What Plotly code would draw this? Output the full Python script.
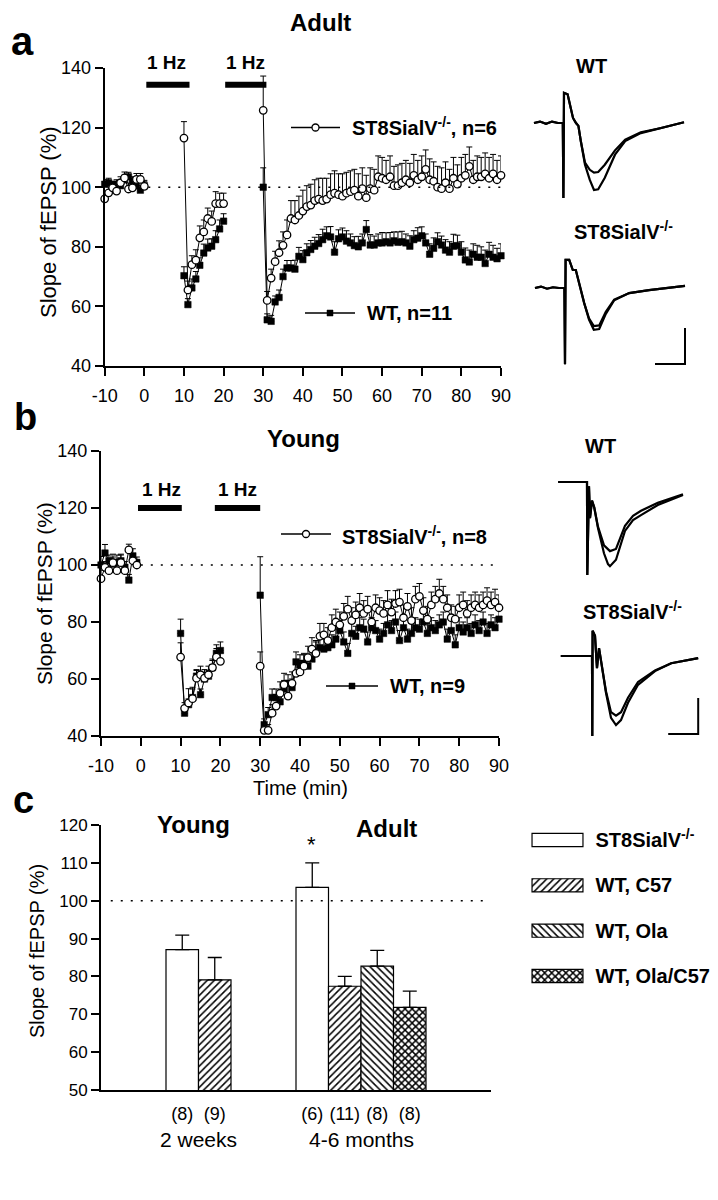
import plotly.graph_objects as go

W, H = 718, 1200
FONT = "Liberation Sans, Arial, Helvetica, sans-serif"


def px(x):
    return x / W


def py(y):
    return 1 - y / H


# ------------------------------------------------------------------ data
# time (min)
a_base_t = list(range(-10, 1))
b_base_t = list(range(-10, 0))
lfs1_t = list(range(10, 21))
post_t = list(range(30, 91))
time_ticks = [-10, 0, 10, 20, 30, 40, 50, 60, 70, 80, 90]

# ---- panel a (Adult)
a_st8_base = [96.1, 98.1, 99.8, 98.7, 101.5, 103.1, 99.4, 99.8, 102.6, 102.6, 100.3]
a_st8_base_err = [2.0, 2.0, 2.0, 2.0, 2.0, 2.0, 2.0, 2.5, 2.0, 2.0, 2.0]
a_wt_base = [101.0, 101.5, 100.5, 101.0, 100.5, 102.5, 103.5, 102.0, 100.5, 99.0, 100.5]
a_wt_base_err = [1.5, 1.5, 1.5, 1.5, 1.5, 1.5, 1.5, 1.5, 1.5, 1.5, 1.5]
a_st8_lfs1 = [116.5, 65.5, 74.0, 75.5, 83.0, 85.0, 89.5, 88.5, 94.5, 94.5, 94.5]
a_st8_lfs1_err = [5.5, 3.0, 3.0, 3.5, 4.0, 4.0, 3.5, 3.5, 4.0, 3.5, 3.5]
a_wt_lfs1 = [70.3, 60.6, 66.2, 69.2, 73.8, 77.9, 79.6, 80.2, 82.4, 86.0, 88.6]
a_wt_lfs1_err = [3.0, 2.0, 3.0, 2.5, 2.5, 3.0, 3.0, 2.5, 3.0, 3.0, 2.5]
a_st8_post = [
    125.8, 62.0, 69.5, 75.0, 78.0, 80.5, 84.0, 89.5, 89.0, 90.5,
    92.0, 93.5, 94.0, 95.5, 96.0, 95.5, 96.0, 97.5, 98.0, 97.5,
    97.0, 98.0, 98.5, 99.0, 97.0, 99.5, 96.5, 99.5, 99.0, 103.5,
    103.0, 102.5, 103.5, 100.5, 100.5, 101.5, 102.5, 101.5, 104.0, 102.5,
    103.5, 106.0, 102.5, 102.0, 100.0, 99.5, 101.5, 99.5, 103.0, 101.0,
    103.0, 104.0, 107.0, 102.5, 103.5, 103.5, 104.5, 103.0, 104.5, 102.5,
    104.0]
a_st8_post_err = [
    11.5, 3.0, 3.0, 3.5, 4.0, 4.5, 5.0, 6.0, 6.5, 6.5,
    7.0, 7.0, 7.0, 7.0, 7.0, 7.5, 7.0, 7.0, 7.5, 7.0,
    7.5, 7.0, 7.0, 7.0, 7.5, 7.0, 7.5, 7.0, 7.0, 7.0,
    7.0, 6.5, 7.0, 6.5, 7.0, 6.5, 6.5, 6.5, 7.0, 6.5,
    7.0, 6.5, 7.0, 6.5, 7.0, 7.0, 7.0, 6.5, 7.0, 6.5,
    7.0, 7.0, 6.5, 6.5, 7.0, 6.5, 7.0, 7.0, 6.5, 6.5,
    6.5]
a_wt_post = [
    100.0, 55.5, 55.0, 61.5, 63.0, 70.0, 72.9, 72.9, 72.5, 76.8,
    75.7, 78.0, 79.1, 80.2, 81.1, 82.4, 83.7, 83.3, 78.2, 82.7,
    83.3, 81.9, 81.3, 80.4, 80.0, 81.3, 85.8, 80.6, 80.6, 81.3,
    81.3, 81.7, 81.3, 82.0, 81.5, 81.7, 81.3, 80.2, 82.4, 82.9,
    83.7, 81.3, 77.5, 79.5, 81.7, 80.6, 78.9, 78.2, 80.2, 80.4,
    78.2, 75.6, 74.9, 77.5, 76.5, 76.5, 74.4, 77.5, 76.5, 76.0,
    77.0]
a_wt_post_err = [
    6.5, 2.0, 2.0, 2.0, 2.5, 2.5, 2.5, 2.5, 3.0, 3.0,
    3.0, 3.0, 3.0, 3.0, 3.0, 3.5, 3.0, 3.5, 3.5, 3.0,
    3.0, 3.5, 3.0, 3.0, 3.5, 3.0, 3.0, 3.5, 3.0, 3.0,
    3.5, 3.0, 3.5, 3.0, 3.5, 3.5, 3.0, 3.5, 3.0, 3.5,
    3.0, 3.0, 3.5, 3.5, 3.0, 3.0, 3.5, 3.5, 4.0, 3.5,
    3.5, 4.0, 4.0, 3.5, 4.0, 3.5, 4.5, 4.0, 4.0, 3.5,
    4.0]

# ---- panel b (Young)
b_st8_base = [95.2, 99.2, 98.0, 100.8, 98.0, 100.8, 98.0, 105.3, 101.5, 100.0]
b_st8_base_err = [3.0, 2.0, 2.0, 3.0, 2.0, 3.0, 2.0, 2.0, 2.5, 2.0]
b_wt_base = [100.0, 104.2, 101.5, 100.3, 101.0, 101.5, 99.2, 94.7, 103.2, 100.8]
b_wt_base_err = [3.0, 3.0, 2.0, 2.5, 2.5, 2.0, 2.0, 2.0, 2.5, 2.0]
b_st8_lfs1 = [67.7, 49.7, 51.6, 53.1, 60.3, 61.5, 60.3, 61.5, 64.0, 67.7, 66.2]
b_st8_lfs1_err = [5.0, 2.0, 5.0, 4.0, 3.0, 3.0, 3.0, 3.0, 3.0, 3.0, 3.0]
b_wt_lfs1 = [76.0, 48.0, 51.0, 53.5, 61.0, 54.5, 60.0, 61.0, 64.0, 69.0, 70.0]
b_wt_lfs1_err = [5.0, 2.0, 2.0, 3.0, 2.0, 2.0, 2.0, 2.0, 2.5, 3.0, 3.0]
b_st8_post = [
    64.5, 42.0, 42.0, 48.0, 50.5, 55.0, 58.0, 54.0, 58.5, 62.0,
    62.5, 64.5, 67.5, 70.5, 69.0, 75.0, 75.5, 73.5, 78.0, 80.0,
    79.0, 82.0, 84.5, 80.5, 82.5, 85.0, 83.0, 84.5, 80.0, 85.0,
    84.0, 83.0, 86.0, 83.5, 86.5, 87.0, 81.5, 85.5, 80.5, 88.0,
    89.0, 84.0, 81.0, 86.0, 88.0, 90.0, 88.0, 85.0, 81.5, 81.0,
    85.0, 86.0, 83.0, 85.0, 86.0, 85.0, 86.0, 87.5, 86.0, 87.0,
    85.0]
b_st8_post_err = [
    5.0, 2.0, 2.0, 3.0, 4.0, 4.0, 4.0, 4.0, 4.0, 4.0,
    4.0, 4.0, 4.0, 4.0, 4.5, 4.5, 4.0, 4.5, 4.5, 4.5,
    4.5, 4.5, 4.5, 4.5, 4.5, 5.0, 4.5, 4.5, 4.5, 4.5,
    4.5, 4.5, 5.0, 4.5, 4.5, 4.5, 4.5, 4.5, 4.5, 4.5,
    4.5, 4.5, 4.5, 4.5, 4.5, 5.0, 4.5, 4.5, 4.5, 4.5,
    4.5, 4.5, 4.5, 4.5, 4.5, 4.5, 4.5, 4.5, 4.5, 4.5,
    4.5]
b_wt_post = [
    89.4, 44.0, 47.5, 53.5, 53.5, 52.0, 56.5, 58.5, 57.0, 66.0,
    65.0, 65.5, 64.5, 67.0, 69.5, 71.0, 70.5, 71.0, 72.0, 74.0,
    77.0, 73.0, 69.0, 76.0, 75.0, 78.0, 77.5, 73.0, 78.0, 77.0,
    74.0, 76.0, 79.0, 77.0, 80.0, 73.5, 78.0, 74.0, 76.0, 78.0,
    77.5, 80.0, 76.0, 78.0, 77.0, 79.0, 80.0, 74.0, 77.0, 72.0,
    78.0, 76.5, 78.0, 76.0, 79.0, 77.0, 80.0, 76.0, 79.0, 78.0,
    81.0]
b_wt_post_err = [
    13.5, 2.0, 2.5, 3.0, 3.0, 3.0, 3.0, 3.0, 3.0, 3.5,
    3.5, 3.5, 3.5, 3.5, 3.5, 3.5, 3.5, 3.5, 3.5, 3.5,
    3.5, 3.5, 3.5, 3.5, 3.5, 3.5, 3.5, 3.5, 3.5, 3.5,
    3.5, 3.5, 3.5, 3.5, 3.5, 3.5, 3.5, 3.5, 3.5, 3.5,
    3.5, 3.5, 3.5, 3.5, 3.5, 3.5, 3.5, 3.5, 3.5, 3.5,
    3.5, 3.5, 3.5, 3.5, 3.5, 3.5, 3.5, 3.5, 3.5, 3.5,
    3.5]

# ---- panel c (bars)
bar_groups = ["2 weeks", "2 weeks", "4-6 months", "4-6 months", "4-6 months", "4-6 months"]
bar_types = ["ST8SialV-/-", "WT, C57", "ST8SialV-/-", "WT, C57", "WT, Ola", "WT, Ola/C57"]
bar_means = [87.1, 79.1, 103.5, 77.4, 82.7, 71.8]
bar_sems = [3.8, 5.9, 6.5, 2.6, 4.2, 4.3]
bar_n = [8, 9, 6, 11, 8, 8]
legend_types = ["ST8SialV-/-", "WT, C57", "WT, Ola", "WT, Ola/C57"]

# ---- example fEPSP traces (time in ms, voltage in mV)
aWT_t = [-5.0, -4.0, -3.0, -2.0, -1.0, -0.2, -0.1, 0.0, 0.6, 1.5, 2.0, 2.4, 2.8, 3.5,
         4.3, 5.0, 5.7, 6.8, 8.5, 10.2, 12.8, 16.2, 20.0]
aWT_v1 = [0.0, 0.02, -0.01, 0.02, 0.0, 0.0, -1.04, 0.42, 0.40, 0.07, 0.0, -0.04, -0.25, -0.58,
          -0.79, -0.93, -0.92, -0.76, -0.44, -0.25, -0.14, -0.07, 0.01]
aWT_v2 = [0.0, 0.02, -0.01, 0.02, 0.0, 0.0, -1.04, 0.42, 0.40, 0.07, 0.0, -0.04, -0.25, -0.55,
          -0.65, -0.69, -0.68, -0.58, -0.38, -0.23, -0.13, -0.07, 0.01]
aST_t = [-5.0, -4.0, -3.0, -2.0, -1.0, -0.1, 0.0, 0.1, 0.7, 1.3, 1.8, 2.3, 3.2, 4.0,
         4.8, 5.7, 6.8, 8.2, 10.7, 14.0, 20.0]
aST_v1 = [0.0, 0.02, -0.01, 0.01, 0.0, 0.0, -1.06, 0.39, 0.39, 0.25, 0.25, 0.07, -0.21, -0.44,
          -0.58, -0.57, -0.36, -0.17, -0.07, -0.03, 0.03]
aST_v2 = [0.0, 0.02, -0.01, 0.01, 0.0, 0.0, -1.06, 0.39, 0.39, 0.25, 0.25, 0.07, -0.21, -0.42,
          -0.53, -0.52, -0.33, -0.16, -0.07, -0.03, 0.03]
bWT_t = [-4.8, -4.0, -3.0, -2.0, -1.0, 0.0, 0.05, 0.33, 0.5, 0.83, 1.2, 1.83, 2.83, 3.5,
         3.83, 4.83, 6.33, 7.67, 9.0, 11.8, 16.0]
bWT_v1 = [0.0, 0.0, 0.01, 0.0, 0.0, 0.0, -1.29, -0.06, -0.5, -0.26, -0.35, -0.64, -0.99, -1.14,
          -1.17, -1.08, -0.68, -0.53, -0.46, -0.32, -0.18]
bWT_v2 = [0.0, 0.0, 0.01, 0.0, 0.0, 0.0, -1.29, -0.06, -0.5, -0.26, -0.35, -0.62, -0.88, -0.94,
          -0.96, -0.93, -0.61, -0.47, -0.40, -0.29, -0.17]
bST_t = [-5.2, -4.0, -3.0, -2.0, -1.0, 0.0, 0.05, 0.1, 0.5, 0.83, 1.17, 1.67, 2.33, 3.17,
         4.0, 4.83, 6.0, 7.67, 10.5, 13.2, 17.7]
bST_v1 = [0.0, 0.0, 0.01, 0.0, 0.0, 0.0, -1.11, 0.35, 0.28, -0.17, 0.11, -0.17, -0.51, -0.86,
          -0.96, -0.89, -0.65, -0.40, -0.21, -0.10, -0.03]
bST_v2 = [0.0, 0.0, 0.01, 0.0, 0.0, 0.0, -1.11, 0.35, 0.28, -0.17, 0.11, -0.17, -0.49, -0.78,
          -0.83, -0.78, -0.58, -0.36, -0.20, -0.10, -0.03]
scale_ms = 5.0
scale_mv = 0.5

# ------------------------------------------------------------------ figure
fig = go.Figure()


def joined(segs):
    out = []
    for i, s in enumerate(segs):
        if i:
            out.append(None)
        out.extend(s)
    return out


def joined_err(segs):
    out = []
    for i, s in enumerate(segs):
        if i:
            out.append(0)
        out.extend(s)
    return out


def add_series(ts, vs, es, xa, ya, kind):
    for t, v, e in zip(ts, vs, es):
        assert len(t) == len(v) == len(e), (len(t), len(v), len(e))
    if kind == "wt":
        marker = dict(symbol="square", size=6.5, color="black", line=dict(color="black", width=0.5))
    else:
        marker = dict(symbol="circle", size=7.5, color="white", line=dict(color="black", width=1.3))
    fig.add_trace(go.Scatter(
        x=joined(ts), y=joined(vs), mode="lines+markers",
        line=dict(color="black", width=1), marker=marker,
        error_y=dict(type="data", symmetric=False, array=joined_err(es),
                     arrayminus=[0] * len(joined_err(es)), color="black", thickness=1, width=3),
        xaxis=xa, yaxis=ya, cliponaxis=False, showlegend=False, connectgaps=False))


# panel a
add_series([a_base_t, lfs1_t, post_t], [a_wt_base, a_wt_lfs1, a_wt_post],
           [a_wt_base_err, a_wt_lfs1_err, a_wt_post_err], "x", "y", "wt")
add_series([a_base_t, lfs1_t, post_t], [a_st8_base, a_st8_lfs1, a_st8_post],
           [a_st8_base_err, a_st8_lfs1_err, a_st8_post_err], "x", "y", "st8")
# panel b
add_series([b_base_t, lfs1_t, post_t], [b_wt_base, b_wt_lfs1, b_wt_post],
           [b_wt_base_err, b_wt_lfs1_err, b_wt_post_err], "x2", "y2", "wt")
add_series([b_base_t, lfs1_t, post_t], [b_st8_base, b_st8_lfs1, b_st8_post],
           [b_st8_base_err, b_st8_lfs1_err, b_st8_post_err], "x2", "y2", "st8")

# panel c bars
group_start = {"2 weeks": 2.0, "4-6 months": 6.0}
positions = []
count = {}
for g in bar_groups:
    k = count.get(g, 0)
    positions.append(group_start[g] + k + 0.5)
    count[g] = k + 1

patterns = {
    "ST8SialV-/-": dict(shape=""),
    "WT, C57": dict(shape="/", size=5, solidity=0.3),
    "WT, Ola": dict(shape="\\", size=5, solidity=0.3),
    "WT, Ola/C57": dict(shape="x", size=5, solidity=0.5),
}


def pat(typ):
    return dict(patterns[typ], fgcolor="black", bgcolor="white", fgopacity=1)


for typ in legend_types:
    idx = [i for i, t in enumerate(bar_types) if t == typ]
    fig.add_trace(go.Bar(
        x=[positions[i] for i in idx], y=[bar_means[i] for i in idx], width=1.0,
        marker=dict(color="white", line=dict(color="black", width=1.2), pattern=pat(typ)),
        error_y=dict(type="data", symmetric=False, array=[bar_sems[i] for i in idx],
                     arrayminus=[0] * len(idx), color="black", thickness=1.3, width=7),
        xaxis="x3", yaxis="y3", showlegend=False))


def sup_label(name):
    return name.replace("-/-", "<sup>-/-</sup>")


# panel c legend as small horizontal bars
for typ in legend_types:
    fig.add_trace(go.Bar(
        x=[1.0], y=[sup_label(typ)], orientation="h", width=0.29, base=0,
        marker=dict(color="white", line=dict(color="black", width=1.2), pattern=pat(typ)),
        xaxis="x4", yaxis="y4", showlegend=False))

# example traces
for (t, v1, v2, xa, ya) in [(aWT_t, aWT_v1, aWT_v2, "x5", "y5"),
                            (aST_t, aST_v1, aST_v2, "x6", "y6"),
                            (bWT_t, bWT_v1, bWT_v2, "x7", "y7"),
                            (bST_t, bST_v1, bST_v2, "x8", "y8")]:
    for v in (v1, v2):
        fig.add_trace(go.Scatter(x=t, y=v, mode="lines", line=dict(color="black", width=2.2),
                                 xaxis=xa, yaxis=ya, showlegend=False, cliponaxis=False))

# ------------------------------------------------------------------ axes
tickfont = dict(family=FONT, size=18, color="black")
axbase = dict(showline=True, linecolor="black", linewidth=2, ticks="outside", ticklen=8,
              tickwidth=2, tickcolor="black", showgrid=False, zeroline=False, tickfont=tickfont)
time_ticktext = [str(v) for v in time_ticks]

fig.update_layout(
    xaxis=dict(axbase, domain=[px(96.7), px(493)], range=[-10, 90], tickvals=time_ticks,
               ticktext=time_ticktext, anchor="y", ticklabelstandoff=4),
    yaxis=dict(axbase, domain=[py(358), py(60)], range=[40, 140], dtick=20, anchor="x"),
    xaxis2=dict(axbase, domain=[px(93), px(491)], range=[-10, 90], tickvals=time_ticks,
                ticktext=time_ticktext, anchor="y2", ticklabelstandoff=4),
    yaxis2=dict(axbase, domain=[py(728), py(443)], range=[40, 140], dtick=20, anchor="x2"),
    xaxis3=dict(axbase, domain=[px(93), px(483)], range=[0, 12], anchor="y3", ticks="",
                tickvals=positions, ticktext=["(%d)" % n for n in bar_n],
                tickfont=dict(family=FONT, size=18, color="black"), ticklabelstandoff=6),
    yaxis3=dict(axbase, domain=[py(1082), py(817)], range=[50, 120], dtick=10, anchor="x3",
                tickfont=dict(family=FONT, size=17, color="black")),
    xaxis4=dict(domain=[px(522.5), px(576.5)], range=[-0.03, 1.03], anchor="y4", visible=False),
    yaxis4=dict(domain=[py(990.65), py(809.35)], anchor="x4", side="right", autorange="reversed",
                showline=False, showgrid=False, zeroline=False, ticks="",
                tickfont=dict(family=FONT, size=20, color="black", weight="bold"),
                ticklabelstandoff=10),
    barmode="overlay",
)

trace_axes = {
    5: dict(t0=556, v0=115, xr=[-5.5, 21.0], yr=[-1.2, 0.6]),
    6: dict(t0=557, v0=280, xr=[-5.5, 21.0], yr=[-1.2, 0.6]),
    7: dict(t0=579, v0=474, xr=[-5.5, 18.5], yr=[-1.4, 0.5]),
    8: dict(t0=584, v0=648, xr=[-5.5, 18.5], yr=[-1.3, 0.5]),
}
PX_PER_MS, PX_PER_MV = 6.0, 72.0
for k, a in trace_axes.items():
    x0 = a["t0"] + a["xr"][0] * PX_PER_MS
    x1 = a["t0"] + a["xr"][1] * PX_PER_MS
    ytop = a["v0"] - a["yr"][1] * PX_PER_MV
    ybot = a["v0"] - a["yr"][0] * PX_PER_MV
    fig.update_layout({
        "xaxis%d" % k: dict(domain=[px(x0), px(x1)], range=a["xr"], visible=False,
                            anchor="y%d" % k),
        "yaxis%d" % k: dict(domain=[py(ybot), py(ytop)], range=a["yr"], visible=False,
                            anchor="x%d" % k),
    })

# ------------------------------------------------------------------ shapes
shapes = []
# 1 Hz stimulation bars
for xr, yr, (a0, a1), yv in [("x", "y", (0.5, 11.4), 134.4), ("x", "y", (20.4, 30.8), 134.4),
                             ("x2", "y2", (-0.7, 10.3), 120), ("x2", "y2", (18.6, 30.0), 120)]:
    shapes.append(dict(type="line", xref=xr, yref=yr, x0=a0, x1=a1, y0=yv, y1=yv,
                       line=dict(color="black", width=6)))
# dotted 100 % lines
for xr, yr, a0, a1 in [("x", "y", 1, 90), ("x2", "y2", 0, 89), ("x3", "y3", 0.3, 11.8)]:
    shapes.append(dict(type="line", xref=xr, yref=yr, x0=a0, x1=a1, y0=100, y1=100,
                       line=dict(color="black", width=1.6, dash="2px,8px")))
# scale bars
for xr, yr, tend, vbot in [("x6", "y6", 20.0, -1.056), ("x8", "y8", 17.7, -1.083)]:
    shapes.append(dict(type="path", xref=xr, yref=yr,
                       path="M %f,%f L %f,%f L %f,%f" % (tend - scale_ms, vbot, tend, vbot,
                                                         tend, vbot + scale_mv),
                       line=dict(color="black", width=2)))
# in-plot legend samples
for (xa, xb, yy, kind) in [(283, 332, 119.5, "st8"), (297, 347, 305, "wt"),
                           (273, 323, 526, "st8"), (318, 370, 678, "wt")]:
    shapes.append(dict(type="line", xref="paper", yref="paper", x0=px(xa), x1=px(xb),
                       y0=py(yy), y1=py(yy), line=dict(color="black", width=1.3)))
    cx = (xa + xb) / 2
    if kind == "st8":
        shapes.append(dict(type="circle", xref="paper", yref="paper", x0=px(cx - 3.5),
                           x1=px(cx + 3.5), y0=py(yy + 3.5), y1=py(yy - 3.5),
                           fillcolor="white", line=dict(color="black", width=1.3)))
    else:
        shapes.append(dict(type="rect", xref="paper", yref="paper", x0=px(cx - 3),
                           x1=px(cx + 3), y0=py(yy + 3), y1=py(yy - 3),
                           fillcolor="black", line=dict(color="black", width=0.5)))
fig.update_layout(shapes=shapes)

# ------------------------------------------------------------------ annotations
anns = []


def ann(text, x, y, size, bold=False, xanchor="center", angle=0):
    anns.append(dict(text=("<b>%s</b>" % text) if bold else text, x=px(x), y=py(y),
                     xref="paper", yref="paper", xanchor=xanchor, yanchor="middle",
                     showarrow=False, textangle=angle,
                     font=dict(family=FONT, size=size, color="black")))


ann("a", 14, 33, 40, bold=True)
ann("b", 17, 409, 38, bold=True)
ann("c", 15, 792, 38, bold=True)
ann("Adult", 312, 15, 24, bold=True)
ann("Young", 295, 431, 24, bold=True)
ann("Young", 186, 816, 24, bold=True)
ann("Adult", 378, 820, 24, bold=True)
for xv, yv in [(158, 54), (237, 54), (153, 482), (229, 482)]:
    ann("1 Hz", xv, yv, 19, bold=True)
ann("ST8SialV<sup>-/-</sup>, n=6", 342, 118, 20, bold=True, xanchor="left")
ann("WT, n=11", 357, 305, 20, bold=True, xanchor="left")
ann("ST8SialV<sup>-/-</sup>, n=8", 332, 527, 20, bold=True, xanchor="left")
ann("WT, n=9", 380, 678, 20, bold=True, xanchor="left")
ann("WT", 583, 58, 20, bold=True)
ann("ST8SialV<sup>-/-</sup>", 615, 222, 20, bold=True)
ann("WT", 592, 438, 20, bold=True)
ann("ST8SialV<sup>-/-</sup>", 624, 602, 20, bold=True)
ann("Slope of fEPSP (%)", 40, 214, 22, angle=-90)
ann("Slope of fEPSP (%)", 36, 586, 21, angle=-90)
ann("Slope of fEPSP (%)", 29, 943, 20, angle=-90)
ann("Time (min)", 292, 780, 20)
ann("*", 303, 836, 22)
# group labels centred under each group of bars (x3 data -> pixels)
x3_px0, x3_px1, x3_r0, x3_r1 = 93, 483, 0, 12
group_pos = {}
for g, p in zip(bar_groups, positions):
    group_pos.setdefault(g, []).append(p)
for g, ps in group_pos.items():
    cx = sum(ps) / len(ps)
    ann(g, x3_px0 + (cx - x3_r0) / (x3_r1 - x3_r0) * (x3_px1 - x3_px0), 1131, 21)
fig.update_layout(annotations=anns)

fig.update_layout(width=W, height=H, margin=dict(l=0, r=0, t=0, b=0, autoexpand=False),
                  paper_bgcolor="white", plot_bgcolor="white", showlegend=False,
                  font=dict(family=FONT, color="black"))

fig.write_html("out.html")
